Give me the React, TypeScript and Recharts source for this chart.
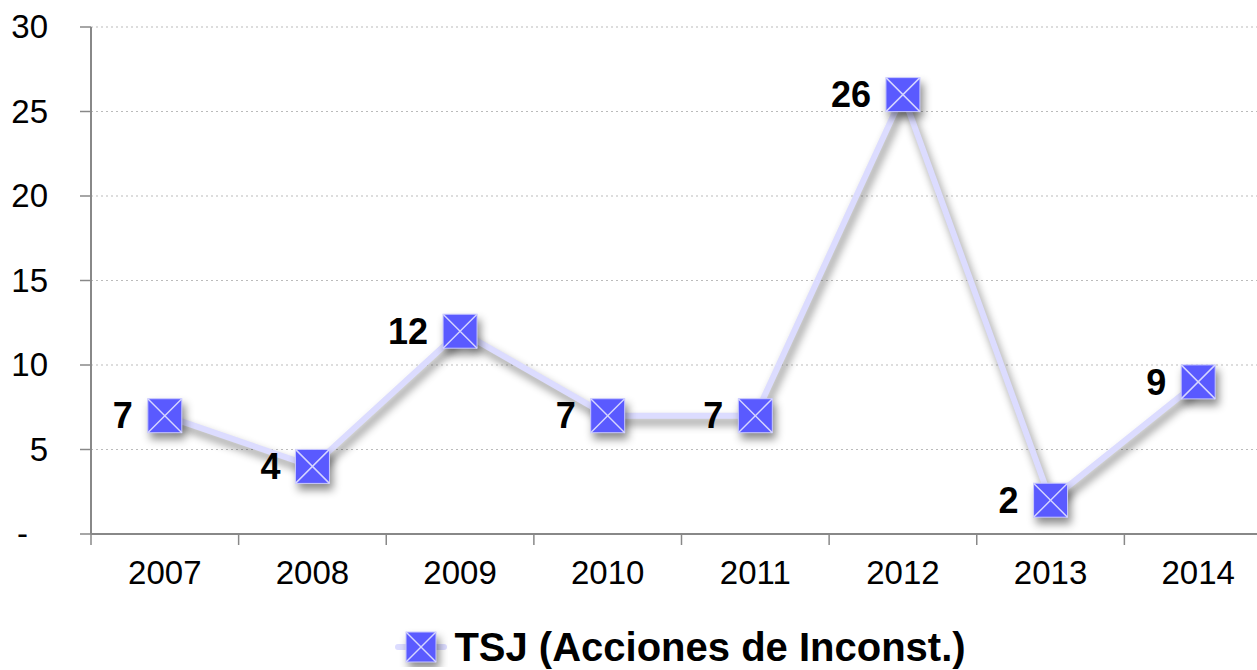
import { LineChart, Line, XAxis, YAxis, CartesianGrid, LabelList } from "recharts";

const years = ["2007", "2008", "2009", "2010", "2011", "2012", "2013", "2014"];
const acciones = [7, 4, 12, 7, 7, 26, 2, 9];
const yTicks = [0, 5, 10, 15, 20, 25, 30];
const seriesName = "TSJ (Acciones de Inconst.)";

const data = years.map((y, i) => ({ year: y, value: acciones[i] }));

const CHART_W = 1280;
const Y_AXIS_W = 91;
const RIGHT = 8;
const STEP = (CHART_W - Y_AXIS_W - RIGHT) / years.length;

const shadow = "drop-shadow(3px 6px 4px rgba(0,0,0,0.45))";

function Marker({ cx, cy, size = 34 }: { cx: number; cy: number; size?: number }) {
  const h = size / 2;
  return (
    <g style={{ filter: shadow }}>
      <rect x={cx - h} y={cy - h} width={size} height={size} fill="#5a5aff" stroke="#c9c9ff" strokeWidth={1} />
      <line x1={cx - h} y1={cy - h} x2={cx + h} y2={cy + h} stroke="#d6d6ff" strokeWidth={1.5} />
      <line x1={cx + h} y1={cy - h} x2={cx - h} y2={cy + h} stroke="#d6d6ff" strokeWidth={1.5} />
    </g>
  );
}

function Dot(props: any) {
  const { cx, cy, index } = props;
  if (cx == null || cy == null) return null;
  return <Marker key={index} cx={cx} cy={cy} />;
}

function XTick(props: any) {
  const { x, y, payload } = props;
  const bx = x - STEP / 2;
  return (
    <g>
      <line x1={bx} y1={y - 8} x2={bx} y2={y + 3} stroke="#888" strokeWidth={1.5} />
      <text x={x} y={y + 42} textAnchor="middle" fontSize={33} fill="#000">
        {payload.value}
      </text>
    </g>
  );
}

function YTick(props: any) {
  const { x, y, payload } = props;
  const zero = payload.value === 0;
  return (
    <text x={zero ? x - 50 : x - 30} y={y + 11} textAnchor="end" fontSize={33} fill="#000">
      {zero ? "-" : payload.value}
    </text>
  );
}

export default function App() {
  return (
    <div
      style={{
        position: "absolute",
        left: 0,
        top: 0,
        width: 1257,
        height: 670,
        overflow: "hidden",
        background: "#fff",
        fontFamily: "'Liberation Sans', Arial, sans-serif",
      }}
    >
      <LineChart
        width={CHART_W}
        height={600}
        data={data}
        margin={{ top: 27, right: RIGHT, left: 0, bottom: 0 }}
        style={{ fontFamily: "'Liberation Sans', Arial, sans-serif" }}
      >
        <CartesianGrid vertical={false} stroke="#bbb" strokeDasharray="2 3" />
        <XAxis
          dataKey="year"
          height={66}
          padding={{ left: STEP / 2, right: STEP / 2 }}
          axisLine={{ stroke: "#888", strokeWidth: 2 }}
          tickLine={false}
          tick={<XTick />}
          interval={0}
        />
        <YAxis
          width={Y_AXIS_W}
          domain={[0, 30]}
          ticks={yTicks}
          interval={0}
          axisLine={{ stroke: "#888", strokeWidth: 2 }}
          tickLine={{ stroke: "#888", strokeWidth: 1.5 }}
          tickSize={11}
          tick={<YTick />}
        />
        <Line
          dataKey="value"
          name={seriesName}
          stroke="#dcdcff"
          strokeWidth={6}
          style={{ filter: shadow }}
          dot={<Dot />}
          activeDot={false}
          isAnimationActive={false}
        >
          <LabelList
            dataKey="value"
            position="left"
            offset={32}
            fontSize={36}
            fontWeight="bold"
            fill="#000"
          />
        </Line>
      </LineChart>
      <div
        style={{
          position: "absolute",
          top: 624,
          left: 0,
          width: 1360,
          display: "flex",
          justifyContent: "center",
          alignItems: "center",
        }}
      >
        <svg width={54} height={40}>
          <line x1={4} y1={20} x2={50} y2={20} stroke="#dcdcff" strokeWidth={6} strokeLinecap="round" />
          <Marker cx={27} cy={20} size={30} />
        </svg>
        <span style={{ fontSize: 40, fontWeight: "bold", marginLeft: 6, color: "#000", lineHeight: "46px" }}>
          {seriesName}
        </span>
      </div>
    </div>
  );
}
